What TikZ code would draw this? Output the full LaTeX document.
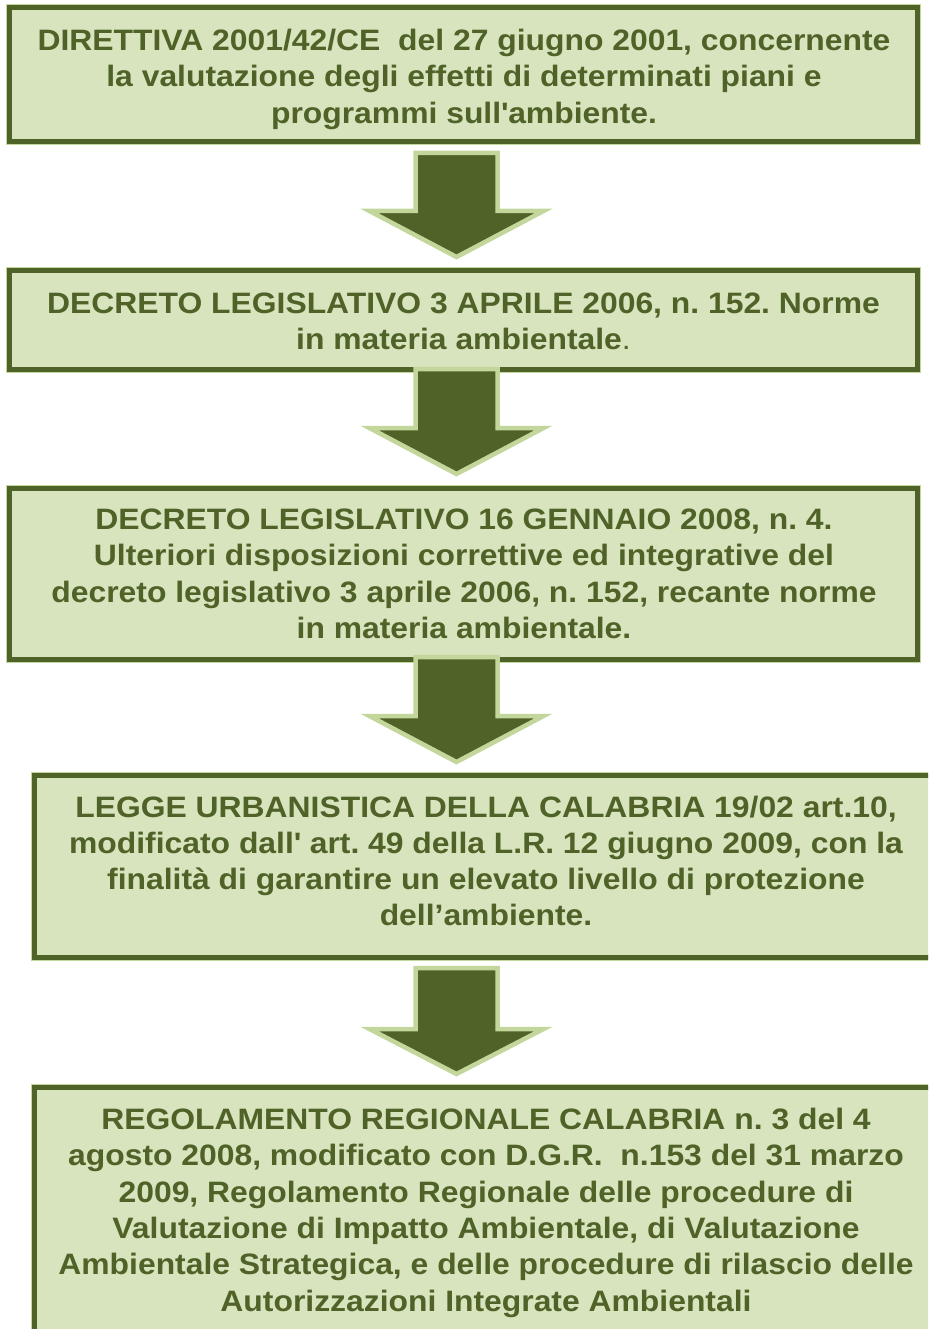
\documentclass[tikz,border=0pt]{standalone}
\usepackage{fontspec}
\setmainfont{Liberation Sans}[FakeStretch=1.08]
\definecolor{dk}{HTML}{4F6228}
\definecolor{fl}{HTML}{D7E4BD}
\definecolor{lt}{HTML}{C3D69B}
\newcommand{\lawtext}[1]{\parbox[t]{920pt}{\fontsize{29.5}{36.3}\selectfont\frenchspacing\centering #1\par}}
\begin{document}
\begin{tikzpicture}[x=1pt,y=-1pt,
  box/.style={draw=dk, line width=5pt, fill=fl, preaction={draw=lt, line width=7pt}, inner sep=0pt},
  txt/.style={anchor=base, inner sep=0pt, text=dk, font=\bfseries},
  blk/.style={draw=lt, fill=dk, line width=4.5pt, line join=miter}]
\useasboundingbox (0,0) rectangle (928,1329);
\clip (0,0) rectangle (928,1329);
% boxes
\node[box, minimum width=908pt, minimum height=134pt] (box1) at (463.5,74.5) {};
\node[box, minimum width=908pt, minimum height=98pt] (box2) at (463.5,320) {};
\node[box, minimum width=908pt, minimum height=171.5pt] (box3) at (463.5,573.75) {};
\node[box, minimum width=911pt, minimum height=182pt] (box4) at (489.5,866.5) {};
\node[box, minimum width=911pt, minimum height=257.5pt] (box5) at (489.5,1216.25) {};
% block arrows
\draw[blk] (415.5,153) -- (497.5,153) -- (497.5,211) -- (543.5,211) -- (456.5,257) -- (369.5,211) -- (415.5,211) -- cycle;
\draw[blk] (415.5,369) -- (497.5,369) -- (497.5,428) -- (543.5,428) -- (456.5,474) -- (369.5,428) -- (415.5,428) -- cycle;
\draw[blk] (415.5,657) -- (497.5,657) -- (497.5,716) -- (543.5,716) -- (456.5,762) -- (369.5,716) -- (415.5,716) -- cycle;
\draw[blk] (415.5,968) -- (497.5,968) -- (497.5,1029) -- (543.5,1029) -- (456.5,1074) -- (369.5,1029) -- (415.5,1029) -- cycle;
% texts
\node[txt] (t1) at (464,50.5) {\lawtext{DIRETTIVA 2001/42/CE~ del 27 giugno 2001, concernente\\ la valutazione degli effetti di determinati piani e\\ programmi sull\textquotesingle ambiente.}};
\node[txt] (t2) at (463.5,313) {\lawtext{DECRETO LEGISLATIVO 3 APRILE 2006, n. 152. Norme\\ in materia ambientale{\mdseries .}}};
\node[txt] (t3) at (464,529.5) {\lawtext{DECRETO LEGISLATIVO 16 GENNAIO 2008, n. 4.\\ Ulteriori disposizioni correttive ed integrative del\\ decreto legislativo 3 aprile 2006, n. 152, recante norme\\ in materia ambientale.}};
\node[txt] (t4) at (486,817) {\lawtext{LEGGE URBANISTICA DELLA CALABRIA 19/02 art.10,\\ modificato dall\textquotesingle{} art. 49 della L.R. 12 giugno 2009, con la\\ finalità di garantire un elevato livello di protezione\\ dell’ambiente.}};
\node[txt] (t5) at (486,1129.5) {\lawtext{REGOLAMENTO REGIONALE CALABRIA n. 3 del 4\\ agosto 2008, modificato con D.G.R.~ n.153 del 31 marzo\\ 2009, Regolamento Regionale delle procedure di\\ Valutazione di Impatto Ambientale, di Valutazione\\ Ambientale Strategica, e delle procedure di rilascio delle\\ Autorizzazioni Integrate Ambientali}};
\end{tikzpicture}
\end{document}
